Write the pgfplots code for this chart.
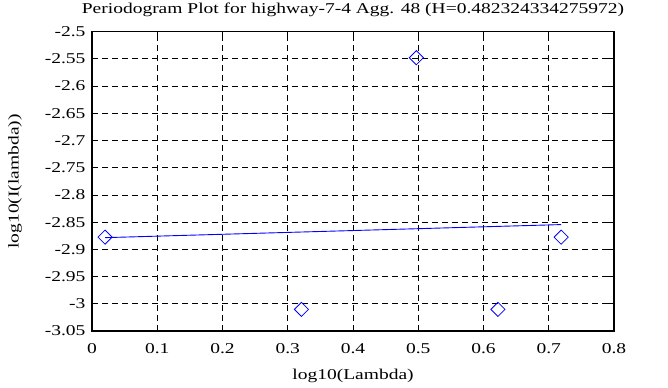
\documentclass[border=0pt]{standalone}
\usepackage{pgfplots}
\pgfplotsset{compat=1.18}
\usepackage{fontspec}
\setmainfont{Liberation Serif}[FakeStretch=1.3]
\begin{document}
\begin{tikzpicture}
\begin{axis}[name=ax, scale only axis, width=522bp, height=299.4bp,
  xmin=0, xmax=0.8, ymin=-3.05, ymax=-2.5,
  xtick={0,0.1,0.2,0.3,0.4,0.5,0.6,0.7,0.8},
  xticklabels={0,0.1,0.2,0.3,0.4,0.5,0.6,0.7,0.8},
  ytick={-3.05,-3,-2.95,-2.9,-2.85,-2.8,-2.75,-2.7,-2.65,-2.6,-2.55,-2.5},
  yticklabels={-3.05,-3,-2.95,-2.9,-2.85,-2.8,-2.75,-2.7,-2.65,-2.6,-2.55,-2.5},
  /pgf/number format/assume math mode=true,
  ticklabel style={font=\fontsize{15bp}{18bp}\selectfont},
  xticklabel style={yshift=-9bp},
  yticklabel style={xshift=-3bp},
  label style={font=\fontsize{15bp}{18bp}\selectfont},
  title style={font=\fontsize{15bp}{18bp}\selectfont, at={(axis description cs:0.5,1.0534)}, anchor=center},
  xlabel style={at={(axis description cs:0.5,-0.1503)}, anchor=center},
  ylabel style={at={(axis description cs:-0.1475,0.5)}, anchor=center},
  title={Periodogram Plot for highway-7-4 Agg. 48 (H=0.482324334275972)},
  xlabel={log10(Lambda)},
  ylabel={log10(I(lambda))},
  tick align=inside, major tick length=6bp,
  tick style={black, line width=0.8bp},
  axis line style={line width=1.8bp},
  grid=major, major grid style={black, line width=0.8bp, dash pattern=on 6bp off 4bp},
  clip=false,
]
\addplot[blue, line width=0.9bp] coordinates {(0.0200,-2.8785) (0.7190,-2.8545)};
\addplot[only marks, blue, mark=square, mark size=5bp, mark options={rotate=45, line width=0.8bp, fill=none}]
  coordinates {(0.0200,-2.8776) (0.3210,-3.0103) (0.4971,-2.548) (0.6221,-3.0103) (0.7190,-2.8776)};
\end{axis}
\pgfresetboundingbox
\path ([shift={(-92bp,-56bp)}]ax.south west) rectangle ([shift={(54bp,31.6bp)}]ax.north east);
\end{tikzpicture}
\end{document}
